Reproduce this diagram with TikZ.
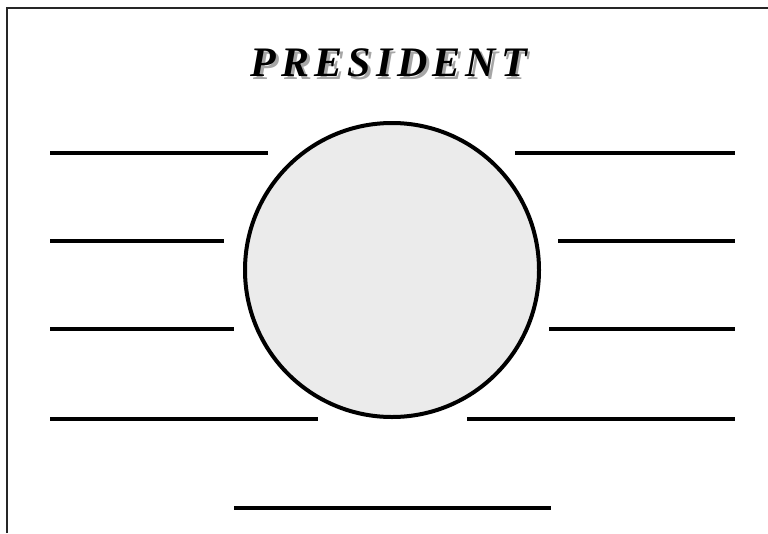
\documentclass[tikz,border=0pt]{standalone}
\usepackage{fontspec}
\setmainfont{Liberation Serif}
\begin{document}
\begin{tikzpicture}[x=1pt,y=-1pt,
  blank/.style={line width=4pt,black},
  frameline/.style={line width=2pt,black!85},
  titletext/.style={font=\fontsize{42}{42}\selectfont\bfseries\itshape\addfontfeature{LetterSpace=12}}]
\useasboundingbox (0,0) rectangle (768,533);
\fill[white] (0,0) rectangle (768,533);
% frame (top and left)
\draw[frameline] (7,533) -- (7,8) -- (768,8);
% title with shadow
\node[titletext,text=black!35] (tshadow) at (391.5,66) {PRESIDENT};
\node[titletext,text=black] (title) at (389,63) {PRESIDENT};
% circle
\node[circle,draw,line width=4pt,fill=black!8,minimum size=294pt,inner sep=0pt] (c) at (392,270) {};
% left blanks
\draw[blank] (50,153) -- (268,153);
\draw[blank] (50,241) -- (224,241);
\draw[blank] (50,329) -- (234,329);
\draw[blank] (50,419) -- (318,419);
% right blanks
\draw[blank] (515,153) -- (735,153);
\draw[blank] (558,241) -- (735,241);
\draw[blank] (549,329) -- (735,329);
\draw[blank] (467,419) -- (735,419);
% bottom blank
\draw[blank] (234,508) -- (551,508);
\end{tikzpicture}
\end{document}
